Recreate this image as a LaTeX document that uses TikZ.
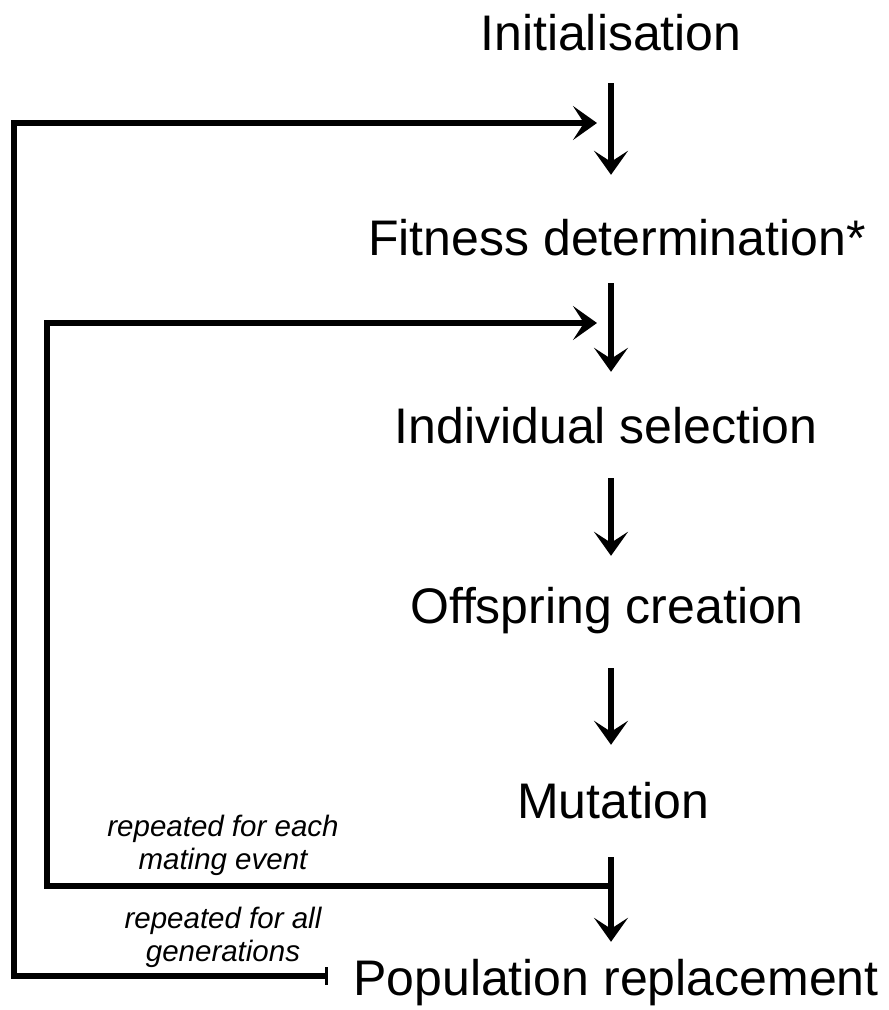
\documentclass[tikz,border=0pt]{standalone}
\usepackage{fontspec}
\setmainfont{Liberation Sans}
\usetikzlibrary{arrows.meta,calc}

\begin{document}
\begin{tikzpicture}
[x=1pt,y=-1pt,every node/.style={inner sep=0pt,anchor=base},
 stage/.style={font=\fontsize{50}{60}\selectfont,text height=36pt,text depth=10pt},
 note/.style={font=\fontsize{29.5}{33}\selectfont\itshape,align=center},
 flow/.style={line width=6pt,-{Stealth[length=24pt,width=34pt,inset=11pt]}},
 back/.style={line width=6.5pt}]
\useasboundingbox (0,0) rectangle (889,1010);
\coordinate (axis) at (611,0);
\node[stage] (init) at (611,50) {Initialisation};
\node[stage] (fit) at (617,255) {Fitness determination*};
\node[stage] (sel) at (606,443) {Individual selection};
\node[stage] (off) at (607,623) {Offspring creation};
\node[stage] (mut) at (613,818) {Mutation};
\node[stage] (pop) at (616,995) {Population replacement};
\node[note] (each) at (223,869) {repeated for each\\mating event};
\node[note] (all) at (223,961) {repeated for all\\generations};
\foreach \from/\to/\s/\e in {init/fit/23/44,fit/sel/18/35,sel/off/25/31,off/mut/35/37,mut/pop/29/17}
\draw[flow,shorten <=\s pt,shorten >=\e pt] (\from.south -| axis) -- (\to.north -| axis);
% loops back
\coordinate (gen) at ($(pop.base west)+(-25,-19)$);
\coordinate (in1) at (597,123);
\coordinate (meet) at (611,886);
\coordinate (in2) at (597,323);
\draw[back,{Bar[width=18pt,line width=3pt]}-{Stealth[length=24pt,width=34pt,inset=11pt]}] (gen) -| (14,123) -- (in1);
\draw[back,-{Stealth[length=24pt,width=34pt,inset=11pt]}] (meet) -| (47,323) -- (in2);
\end{tikzpicture}
\end{document}
